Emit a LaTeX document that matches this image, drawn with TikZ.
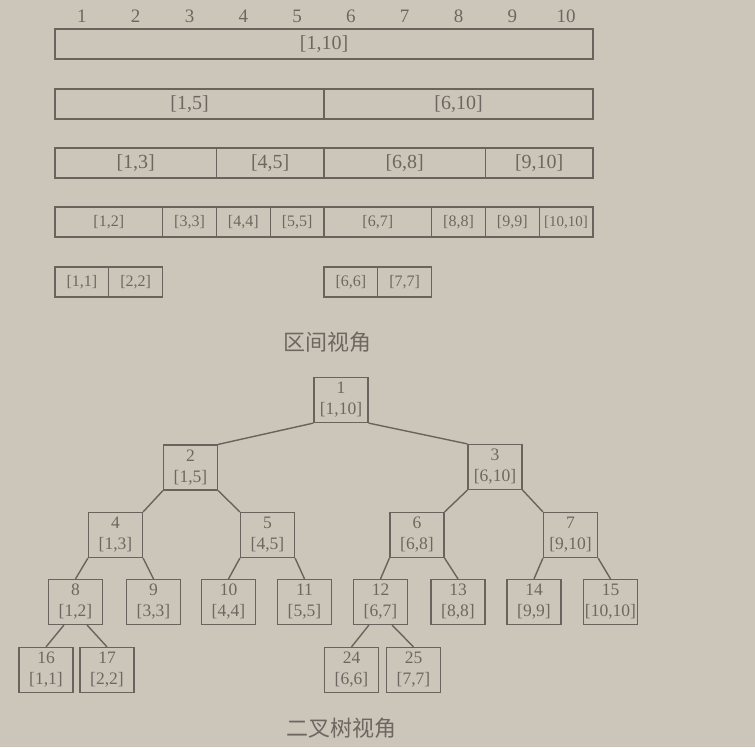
\documentclass[tikz,border=0pt]{standalone}
\usepackage{fontspec}
\setmainfont{Liberation Serif}
\newfontfamily\cjk{Noto Sans CJK SC}
\definecolor{paper}{RGB}{204, 198, 186}
\definecolor{ink}{RGB}{104, 99, 92}
\definecolor{inktext}{RGB}{108, 103, 96}
\usetikzlibrary{positioning, calc}

% one interval bar: name, from, to, y, label, font
\newcommand{\segbox}[6]{%
  \node[seg, font=#6, minimum width={(#3-#2+1)*53.8pt}] (#1) at ({55+(#2+#3-1)*26.9}, #4) {#5};}
\newcommand{\segbig}{\fontsize{20}{22}\selectfont}
\newcommand{\segsmall}{\fontsize{16}{18}\selectfont}

\begin{document}
\begin{tikzpicture}[x=1pt, y=-1pt,
  seg/.style={draw=ink, line width=1.2pt, text=inktext, minimum height=30pt, inner sep=0pt},
  numlbl/.style={text=inktext, font=\fontsize{19}{22}\selectfont, inner sep=0pt},
  tnode/.style={draw=ink, line width=1.2pt, text=inktext, minimum width=54pt, minimum height=45pt,
    inner sep=0pt, align=center, font=\fontsize{17.5}{21}\selectfont},
  edge/.style={draw=ink, line width=1.4pt},
  caption/.style={text=inktext, font=\cjk\fontsize{22}{24}\selectfont}
]
  \fill[paper] (0,0) rectangle (755,747);
  \useasboundingbox (0,0) rectangle (755,747);

  % interval view
  \foreach \i in {1,...,10}
    \node[numlbl] (col\i) at ({55+(\i-0.5)*53.8}, 16) {\i};

  \segbox{s110}{1}{10}{44}{[1,10]}{\segbig}
  \segbox{s15}{1}{5}{104}{[1,5]}{\segbig}
  \segbox{s610}{6}{10}{104}{[6,10]}{\segbig}
  \segbox{s13}{1}{3}{163}{[1,3]}{\segbig}
  \segbox{s45}{4}{5}{163}{[4,5]}{\segbig}
  \segbox{s68}{6}{8}{163}{[6,8]}{\segbig}
  \segbox{s910}{9}{10}{163}{[9,10]}{\segbig}
  \segbox{s12}{1}{2}{222}{[1,2]}{\segsmall}
  \segbox{s33}{3}{3}{222}{[3,3]}{\segsmall}
  \segbox{s44}{4}{4}{222}{[4,4]}{\segsmall}
  \segbox{s55}{5}{5}{222}{[5,5]}{\segsmall}
  \segbox{s67}{6}{7}{222}{[6,7]}{\segsmall}
  \segbox{s88}{8}{8}{222}{[8,8]}{\segsmall}
  \segbox{s99}{9}{9}{222}{[9,9]}{\segsmall}
  \segbox{s1010}{10}{10}{222}{[10,10]}{\fontsize{15}{18}\selectfont}
  \segbox{s11}{1}{1}{282}{[1,1]}{\segsmall}
  \segbox{s22}{2}{2}{282}{[2,2]}{\segsmall}
  \segbox{s66}{6}{6}{282}{[6,6]}{\segsmall}
  \segbox{s77}{7}{7}{282}{[7,7]}{\segsmall}

  \node[caption] (cap1) at (327, 342) {区间视角};

  % binary tree view
  \node[tnode] (n1) at (341, 400) {1\\{}[1,10]};
  \node[tnode] (n2) at (190.5, 467.5) {2\\{}[1,5]};
  \node[tnode] (n3) at (495, 467) {3\\{}[6,10]};
  \node[tnode] (n4) at (115.5, 535) {4\\{}[1,3]};
  \node[tnode] (n5) at (267.5, 535) {5\\{}[4,5]};
  \node[tnode] (n6) at (417, 535) {6\\{}[6,8]};
  \node[tnode] (n7) at (570.5, 535) {7\\{}[9,10]};
  \node[tnode] (n8) at (75.5, 602) {8\\{}[1,2]};
  \node[tnode] (n9) at (153.5, 602) {9\\{}[3,3]};
  \node[tnode] (n10) at (228.5, 602) {10\\{}[4,4]};
  \node[tnode] (n11) at (304.5, 602) {11\\{}[5,5]};
  \node[tnode] (n12) at (380.5, 602) {12\\{}[6,7]};
  \node[tnode] (n13) at (458, 602) {13\\{}[8,8]};
  \node[tnode] (n14) at (534, 602) {14\\{}[9,9]};
  \node[tnode] (n15) at (610.5, 602) {15\\{}[10,10]};
  \node[tnode] (n16) at (46, 670) {16\\{}[1,1]};
  \node[tnode] (n17) at (107, 670) {17\\{}[2,2]};
  \node[tnode] (n24) at (351.5, 670) {24\\{}[6,6]};
  \node[tnode] (n25) at (413.5, 670) {25\\{}[7,7]};

  \draw[edge] (n1.south west) -- (n2.north east);
  \draw[edge] (n1.south east) -- (n3.north west);
  \draw[edge] (n2.south west) -- (n4.north east);
  \draw[edge] (n2.south east) -- (n5.north west);
  \draw[edge] (n3.south west) -- (n6.north east);
  \draw[edge] (n3.south east) -- (n7.north west);
  \foreach \p/\l/\r in {n4/n8/n9, n5/n10/n11, n6/n12/n13, n7/n14/n15} {
    \draw[edge] (\p.south west) -- (\l.north);
    \draw[edge] (\p.south east) -- (\r.north);
  }
  \foreach \p/\l/\r in {n8/n16/n17, n12/n24/n25} {
    \draw[edge] ([xshift=16pt]\p.south west) -- (\l.north);
    \draw[edge] ([xshift=-16pt]\p.south east) -- (\r.north);
  }

  \node[caption] (cap2) at (341, 728) {二叉树视角};
\end{tikzpicture}
\end{document}
